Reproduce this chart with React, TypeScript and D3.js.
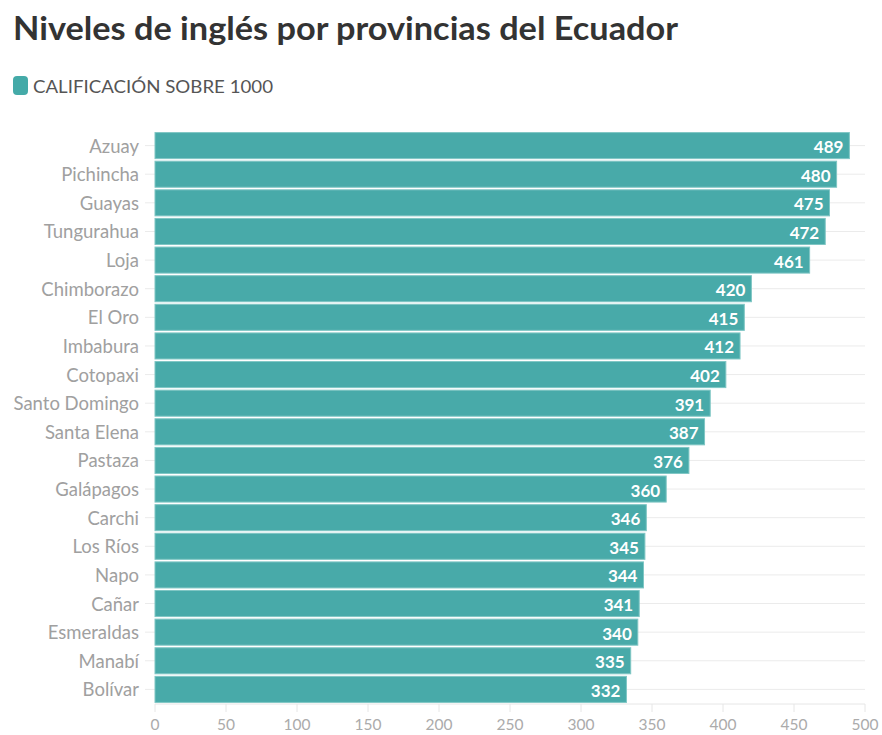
import React from "react";
import * as d3 from "d3";

const provinces = ["Azuay","Pichincha","Guayas","Tungurahua","Loja","Chimborazo","El Oro","Imbabura","Cotopaxi","Santo Domingo","Santa Elena","Pastaza","Galápagos","Carchi","Los Ríos","Napo","Cañar","Esmeraldas","Manabí","Bolívar"];
const scores = [489,480,475,472,461,420,415,412,402,391,387,376,360,346,345,344,341,340,335,332];
const xTicks = [0,50,100,150,200,250,300,350,400,450,500];

const W = 882, H = 735;
const FONT = "Lato, 'Open Sans', sans-serif";

export default function App() {
  const x = d3.scaleLinear().domain([0, 500]).range([155, 865]);
  const y = d3.scaleBand<string>().domain(provinces).range([132, 703]).paddingInner(0.09).paddingOuter(0.02);
  const bottom = 704;
  return (
    <svg width={W} height={H} style={{ position: "absolute", left: 0, top: 0, background: "#fff" }} fontFamily={FONT}>
      <text x={13} y={40} fontSize={33} fontWeight={700} fill="#333" textLength={665} lengthAdjust="spacingAndGlyphs">Niveles de inglés por provincias del Ecuador</text>
      <rect x={13} y={76} width={15} height={19} rx={4} fill="#44aaa8" />
      <text x={33} y={86} dominantBaseline="central" fontSize={18} fill="#555" textLength={240} lengthAdjust="spacingAndGlyphs">CALIFICACIÓN SOBRE 1000</text>
      {provinces.map((p) => {
        const cy = (y(p) as number) + y.bandwidth() / 2;
        return (
          <g key={"g" + p}>
            <line x1={145} x2={865} y1={cy} y2={cy} stroke="#ebebeb" strokeWidth={1} />
            <text x={139} y={cy} textAnchor="end" dominantBaseline="central" fontSize={18.5} fill="#a0a0a0">{p}</text>
          </g>
        );
      })}
      {xTicks.map((t) => (
        <g key={"t" + t}>
          <line x1={x(t)} x2={x(t)} y1={bottom} y2={bottom + 8} stroke="#e6e6e6" />
          <text x={x(t)} y={724} textAnchor="middle" dominantBaseline="central" fontSize={15.5} fill="#ababab">{t}</text>
        </g>
      ))}
      <line x1={155} x2={865} y1={bottom} y2={bottom} stroke="#e6e6e6" />
      {provinces.map((p, i) => {
        const yy = y(p) as number;
        const cy = yy + y.bandwidth() / 2;
        return (
          <g key={"b" + p}>
            <rect x={x(0)} y={yy} width={x(scores[i]) - x(0)} height={y.bandwidth()} fill="#48aaa9" stroke="#7fc6c4" strokeWidth={1} />
            <text x={x(scores[i]) - 6} y={cy + 1} textAnchor="end" dominantBaseline="central" fontSize={17} fontWeight={700} fill="#fff">{scores[i]}</text>
          </g>
        );
      })}
    </svg>
  );
}
